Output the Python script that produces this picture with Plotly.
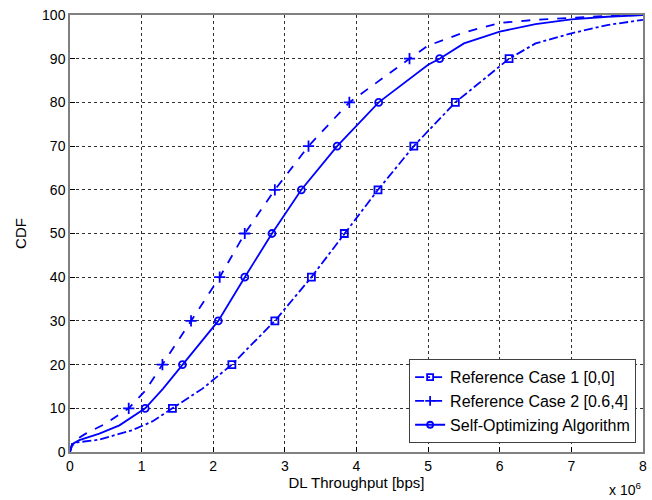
import plotly.graph_objects as go

# x values in units of 10^6 bps, y in % (CDF)
case1_x = [0, 0.03, 0.1, 0.4, 0.87, 1.15, 1.43, 1.85, 2.26, 2.86, 3.37, 3.83, 4.30, 4.80, 5.0, 5.38, 6.13, 6.5, 7.0, 7.5, 8.0]
case1_y = [0, 1.5, 2.2, 2.8, 5, 7, 10, 14.5, 20, 30, 40, 50, 60, 70, 73.5, 80, 90, 93.5, 95.8, 97.7, 98.9]

case2_x = [0, 0.03, 0.08, 0.22, 0.5, 0.82, 1.05, 1.29, 1.69, 2.09, 2.44, 2.86, 3.33, 3.90, 4.74, 5.0, 5.5, 6.0, 6.5, 7.0, 7.5, 8.0]
case2_y = [0, 2, 2.8, 4.2, 6.5, 10, 14, 20, 30, 40, 50, 60, 70, 80, 90, 93, 96, 98.2, 98.9, 99.3, 99.8, 100]

self_x = [0, 0.03, 0.13, 0.41, 0.69, 1.05, 1.3, 1.57, 2.07, 2.44, 2.82, 3.23, 3.73, 4.31, 5.0, 5.16, 5.5, 6.0, 6.5, 7.0, 7.5, 8.0]
self_y = [0, 1.8, 2.7, 4.2, 6.1, 10, 14.5, 20, 30, 40, 50, 60, 70, 80, 88.6, 90, 93.5, 96.2, 97.9, 99, 99.6, 100]

marker_levels = [10, 20, 30, 40, 50, 60, 70, 80, 90]

x_ticks = [0, 1, 2, 3, 4, 5, 6, 7, 8]
y_ticks = [0, 10, 20, 30, 40, 50, 60, 70, 80, 90, 100]

names = ["Reference Case 1 [0,0]", "Reference Case 2 [0.6,4]", "Self-Optimizing Algorithm"]

BLUE = "rgb(0,0,255)"
FONT = "Liberation Sans, Arial, sans-serif"

series = [
    (case1_x, case1_y, "dashdot", "square-open", 7),
    (case2_x, case2_y, "dash", "cross-thin-open", 8),
    (self_x, self_y, "solid", "circle-open", 7),
]

fig = go.Figure()
for (xs, ys, dash, sym, msize), name in zip(series, names):
    fig.add_trace(go.Scatter(
        x=xs, y=ys, mode="lines", showlegend=False, hoverinfo="skip",
        line=dict(color=BLUE, width=1.8, dash=dash),
    ))
    mx = [x for x, y in zip(xs, ys) if y in marker_levels]
    my = [y for y in ys if y in marker_levels]
    fig.add_trace(go.Scatter(
        x=mx, y=my, mode="markers", showlegend=False,
        marker=dict(symbol=sym, size=msize, color=BLUE, line=dict(width=1.8, color=BLUE)),
    ))
    # legend entry
    fig.add_trace(go.Scatter(
        x=[None], y=[None], mode="lines+markers", name=name,
        line=dict(color=BLUE, width=1.8, dash=dash),
        marker=dict(symbol=sym, size=msize - 1, color=BLUE, line=dict(width=1.8, color=BLUE)),
    ))

axis_common = dict(
    showgrid=True, gridcolor="#303030", griddash="dot", gridwidth=1,
    zeroline=False, showline=True, linecolor="#808080", linewidth=1.5, mirror=True,
    ticks="inside", ticklen=5, tickcolor="black",
    tickfont=dict(family=FONT, size=14, color="black"),
)

fig.update_layout(
    width=652, height=500,
    margin=dict(l=70, r=5, t=15, b=48),
    paper_bgcolor="white", plot_bgcolor="white",
    font=dict(family=FONT, size=14, color="black"),
    xaxis=dict(range=[0, 8], tickvals=x_ticks, ticktext=[str(v) for v in x_ticks],
               title=dict(text="DL Throughput [bps]", standoff=2, font=dict(size=15)), **axis_common),
    yaxis=dict(range=[0, 100], tickvals=y_ticks, ticktext=[str(v) for v in y_ticks],
               title=dict(text="CDF", standoff=12, font=dict(size=15)), **axis_common),
    legend=dict(x=0.988, y=0.02, xanchor="right", yanchor="bottom",
                bgcolor="white", bordercolor="#404040", borderwidth=1,
                font=dict(family=FONT, size=16), tracegroupgap=0),
    showlegend=True,
)

fig.add_annotation(text="x 10<sup>6</sup>", xref="paper", yref="paper", x=1.0, y=-0.085,
                   xanchor="right", yanchor="middle", showarrow=False, font=dict(family=FONT, size=14))

fig.write_html("out.html")
